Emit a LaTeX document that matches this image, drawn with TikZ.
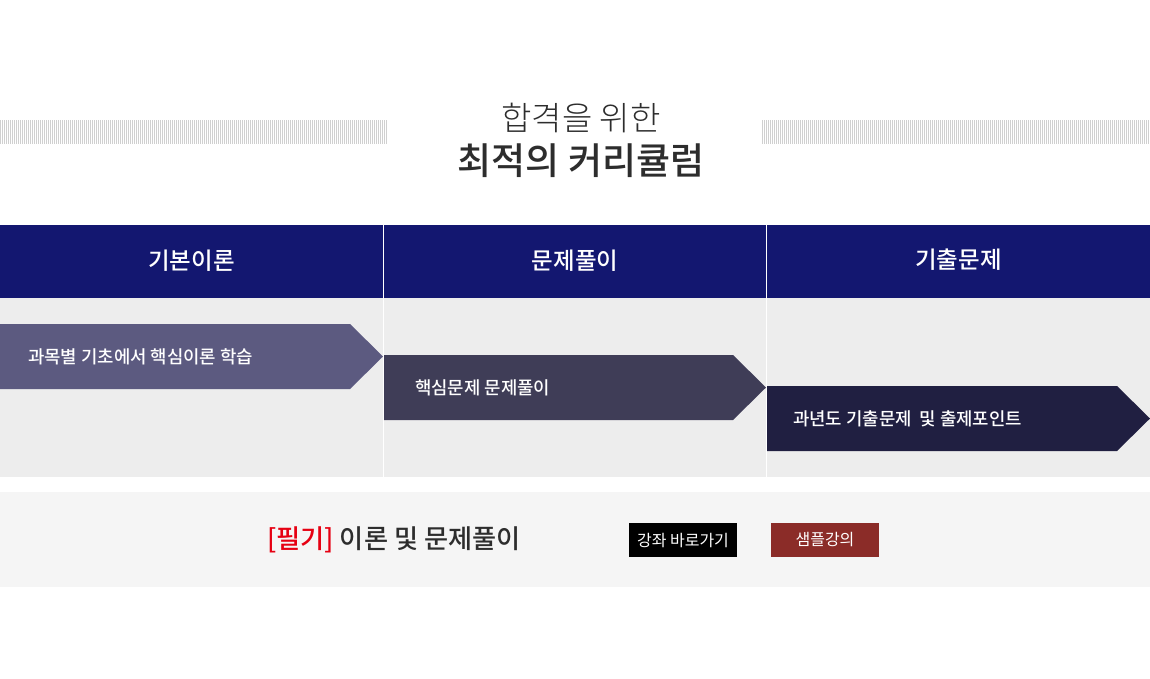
\documentclass[tikz,border=0pt]{standalone}
\usepackage{fontspec}
\setmainfont{Noto Sans CJK KR}
\newfontfamily\med{Noto Sans CJK KR Medium}
\newfontfamily\lite{Noto Sans CJK KR Light}
\definecolor{navy}{RGB}{19,23,112}
\definecolor{panel}{RGB}{237,237,237}
\definecolor{arrA}{RGB}{92,90,128}
\definecolor{arrB}{RGB}{63,61,87}
\definecolor{arrC}{RGB}{32,31,65}
\definecolor{band}{RGB}{245,245,245}
\definecolor{redtxt}{RGB}{230,0,18}
\definecolor{darktxt}{RGB}{45,45,45}
\definecolor{brown}{RGB}{139,44,40}
\definecolor{stripe}{RGB}{208,208,208}
\tikzset{
  headtxt/.style={text=white,font=\med\fontsize{23.5}{25}\selectfont,inner sep=0pt},
  arrtxt/.style={text=white,font=\med\fontsize{17.8}{19}\selectfont,inner sep=0pt,anchor=west},
  btn/.style={minimum width=108pt,minimum height=34pt,inner sep=0pt,text=white,font=\fontsize{16}{17}\selectfont},
}
\begin{document}
\begin{tikzpicture}[x=1pt,y=-1pt]
\useasboundingbox[fill=white] (0,0) rectangle (1150,678);
% stripes
\foreach \i in {0,2,...,386}{\draw[stripe,line width=1pt] (\i+0.5,120) -- (\i+0.5,144);}
\foreach \i in {762,764,...,1148}{\draw[stripe,line width=1pt] (\i+0.5,120) -- (\i+0.5,144);}
% title
\node[text=darktxt,font=\lite\fontsize{33}{35}\selectfont,inner sep=0pt] (t1) at (581,118) {합격을 위한};
\node[text=darktxt,font=\med\fontsize{37}{39}\selectfont,inner sep=0pt] (t2) at (581,161) {최적의 커리큘럼};
% header band and panel
\fill[navy] (0,225) rectangle (1150,297.5);
\fill[panel] (0,297.5) rectangle (1150,476.5);
\draw[white,line width=1pt] (383.5,225) -- (383.5,476.5);
\draw[white,line width=1pt] (766.5,225) -- (766.5,476.5);
\node[headtxt] (h1) at (191.5,261) {기본이론};
\node[headtxt] (h2) at (575,261) {문제풀이};
\node[headtxt] (h3) at (958.5,260) {기출문제};
% arrows
\fill[arrA] (0,324) -- (350,324) -- (383,356.5) -- (350,389) -- (0,389) -- cycle;
\fill[arrB] (384,355) -- (733,355) -- (766,387.5) -- (733,420) -- (384,420) -- cycle;
\fill[arrC] (767,386) -- (1117,386) -- (1150,418.5) -- (1117,451) -- (767,451) -- cycle;
\node[arrtxt] (a1) at (28,356.5) {과목별 기초에서 핵심이론 학습};
\node[arrtxt] (a2) at (415,387.5) {핵심문제 문제풀이};
\node[arrtxt] (a3) at (793,418.5) {과년도 기출문제\ \ 및 출제포인트};
% bottom band
\fill[band] (0,492) rectangle (1150,587);
\node[anchor=west,inner sep=0pt,font=\med\fontsize{26.2}{28}\selectfont,text=darktxt] (b1) at (267,539.5) {\textcolor{redtxt}{[필기]} 이론 및 문제풀이};
\node[btn,fill=black] (btn1) at (683,540) {강좌 바로가기};
\node[btn,fill=brown] (btn2) at (825,540) {샘플강의};
\end{tikzpicture}
\end{document}
